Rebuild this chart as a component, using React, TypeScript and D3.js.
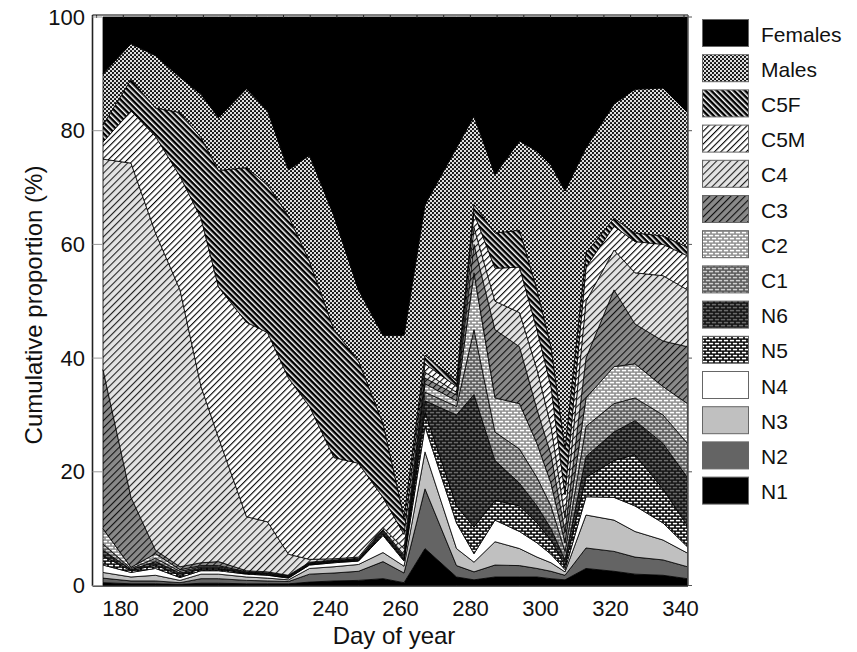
import React from 'react';
import * as d3 from 'd3';

const days = [175,183,190,197,203,208,216,222,228,234,241,248,255,261,267,276,281,287,294,299,303,307,313,321,327,335,342];

const stages = ['N1','N2','N3','N4','N5','N6','C1','C2','C3','C4','C5M','C5F','Males','Females'];
const legendOrder = ['Females','Males','C5F','C5M','C4','C3','C2','C1','N6','N5','N4','N3','N2','N1'];

// cumulative proportion (%) at the top of each stage
const cumN1 = [0.5,0.3,0.3,0.2,0.4,0.4,0.3,0.3,0.3,0.6,0.8,0.9,1.2,0.5,6.5,1.5,1,1.5,1.5,1.5,1.2,1,3,2.5,2,1.8,1.2];
const cumN2 = [1.3,0.8,0.8,0.5,1.2,1.2,0.9,0.8,0.7,2,2.2,2.5,4.2,2.2,17,3.5,2.4,3.6,3.5,3,2.5,1.8,6.6,6,5,4.5,3.3];
const cumN3 = [2.3,1.5,1.8,0.9,2,2,1.5,1.3,1,3,3.3,3.7,5.8,3.4,23.5,6.5,4.1,7.7,6.5,5,4,2.4,12.4,11.5,9.5,8,5.7];
const cumN4 = [3.6,2.3,3,1.4,2.6,2.6,2,1.8,1.3,3.6,4,4.3,8.8,4.3,28,11,5.6,11.5,9.5,7.5,5.5,2.8,15.6,15.5,14,11,6.8];
const cumN5 = [5.2,2.6,3.6,1.8,2.9,2.9,2.1,1.9,1.4,3.7,4.1,4.4,9,4.5,30.5,14,10.3,15,14,11,8,3.5,19,22,23,17,10.5];
const cumN6 = [6.2,2.8,4.2,2.2,3.1,3.1,2.2,2,1.5,3.8,4.2,4.5,9.2,4.7,32.5,30,33.6,22,18,14,10,4.5,22.7,27,29,25,19];
const cumC1 = [7.3,3,4.8,2.5,3.3,3.3,2.3,2.1,1.6,3.9,4.3,4.6,9.4,4.9,34,31.5,45,27,24,19,14,6,28,32,33,30,25];
const cumC2 = [10,3.2,5.6,2.8,3.5,3.5,2.4,2.2,1.7,4,4.4,4.7,9.6,5.1,35.5,32.5,55,33,32,25,18,7.5,33,38.5,39,35,32];
const cumC3 = [38,15.5,6.2,3.3,4,4.2,2.6,2.4,1.8,4.1,4.5,4.8,9.8,5.4,36.5,33.5,60,45,42,31,23,9.5,40,52,46,43,42];
const cumC4 = [75,74.3,62,52,35,26,12.1,11.2,5.5,4.6,4.7,5,10.2,6.5,37.5,34,63,50,48,38,28,12,50,59,55,54.5,52];
const cumC5M = [78,83.5,79,72,64.6,52.5,46.3,44.5,36.5,31.5,22.5,21.5,15.5,9,39,35,65.5,55.8,56,45,35,16,56,63.2,60.5,60,58];
const cumC5F = [81,89,84,83.2,78.8,73,73.5,70.5,65,57,45,39.5,28.5,12,40.5,36,67,62,62.5,52,42,24,58.5,64.6,62,61.5,59.5];
const cumMales = [90,95.3,93.2,89.4,86.4,82.3,87.4,83.5,73.1,75.7,65,52,44,44,67,77,82.6,72.3,78.2,76.4,74,69.4,77,84.7,87.3,87.5,83.2];
const cumFemales = days.map(() => 100);

const cumList = [cumN1,cumN2,cumN3,cumN4,cumN5,cumN6,cumC1,cumC2,cumC3,cumC4,cumC5M,cumC5F,cumMales,cumFemales];

const xTicks = [180,200,220,240,260,280,300,320,340];
const yTicks = [0,20,40,60,80,100];

const fills: Record<string,string> = {
  Females: '#000', Males: 'url(#pMales)', C5F: 'url(#pC5F)', C5M: 'url(#pC5M)', C4: 'url(#pC4)',
  C3: 'url(#pC3)', C2: 'url(#pC2)', C1: 'url(#pC1)', N6: 'url(#pN6)', N5: 'url(#pN5)',
  N4: '#fff', N3: '#c0c0c0', N2: '#646464', N1: '#000',
};

function Hatch({id, bg, fg, w, period, angle}: {id:string;bg:string;fg:string;w:number;period:number;angle:number}) {
  return (
    <pattern id={id} width={period} height={period} patternUnits="userSpaceOnUse" patternTransform={`rotate(${angle})`}>
      <rect width={period} height={period} fill={bg} />
      <rect x={0} y={0} width={w} height={period} fill={fg} />
    </pattern>
  );
}

function Brick({id, mortar, brick}: {id:string;mortar:string;brick:string}) {
  return (
    <pattern id={id} width={6} height={6} patternUnits="userSpaceOnUse">
      <rect width={6} height={6} fill={mortar} />
      <rect x={0.8} y={0.8} width={4.4} height={1.6} fill={brick} />
      <rect x={3.8} y={3.8} width={4.4} height={1.6} fill={brick} />
      <rect x={-2.2} y={3.8} width={4.4} height={1.6} fill={brick} />
    </pattern>
  );
}

export default function App() {
  const W = 857, H = 652;
  const x = d3.scaleLinear().domain([180, 340]).range([120.5, 680.5]);
  const y = d3.scaleLinear().domain([0, 100]).range([585.5, 17]);

  const rows = days.map((d, i) => {
    const r: any = { day: d };
    stages.forEach((s, k) => {
      r[s] = cumList[k][i] - (k > 0 ? cumList[k - 1][i] : 0);
    });
    return r;
  });
  const series = d3.stack<any>().keys(stages)(rows);
  const area = d3.area<any>()
    .x((d) => x(d.data.day))
    .y0((d) => y(d[0]))
    .y1((d) => y(d[1]));

  const frameL = 92.5, frameR = 688, frameT = 15, frameB = 586;
  const topTicks: number[] = [];
  for (let t = 96.6; t < frameR; t += 26.7) topTicks.push(t);

  const font = 'Liberation Sans, Arial, Helvetica, sans-serif';

  return (
    <svg width={W} height={H} style={{ position: 'absolute', left: 0, top: 0, background: '#fff' }} fontFamily={font}>
      <defs>
        <pattern id="pMales" width={4} height={4} patternUnits="userSpaceOnUse">
          <rect width={4} height={4} fill="#e0e0e0" />
          <circle cx={1} cy={1} r={1.05} fill="#000" />
          <circle cx={3} cy={3} r={1.05} fill="#000" />
        </pattern>
        <Hatch id="pC5F" bg="#000" fg="#fff" w={1.5} period={4} angle={-45} />
        <Hatch id="pC5M" bg="#fff" fg="#000" w={1.1} period={4.5} angle={45} />
        <Hatch id="pC4" bg="#e4e4e4" fg="#222" w={1.1} period={5} angle={45} />
        <Hatch id="pC3" bg="#8a8a8a" fg="#111" w={1.1} period={5} angle={45} />
        <Brick id="pC2" mortar="#8c8c8c" brick="#ffffff" />
        <Brick id="pC1" mortar="#555" brick="#cfcfcf" />
        <Brick id="pN6" mortar="#111" brick="#6a6a6a" />
        <Brick id="pN5" mortar="#000" brick="#ffffff" />
        <clipPath id="plotClip">
          <rect x={frameL} y={frameT} width={frameR - frameL} height={frameB - frameT} />
        </clipPath>
      </defs>

      <g clipPath="url(#plotClip)">
        {series.map((s) => (
          <path key={s.key} d={area(s as any) || ''} fill={fills[s.key]} stroke="#000" strokeWidth={0.8} strokeLinejoin="round" />
        ))}
      </g>

      {/* frame */}
      <line x1={frameL} x2={frameR} y1={frameT} y2={frameT} stroke="#555" strokeWidth={1.5} />
      <line x1={frameR} x2={frameR} y1={frameT} y2={frameB} stroke="#555" strokeWidth={1.5} />
      <line x1={frameL} x2={frameR} y1={frameB} y2={frameB} stroke="#222" strokeWidth={1.6} />
      <line x1={frameL} x2={frameL} y1={frameT} y2={frameB} stroke="#222" strokeWidth={1.6} />
      {topTicks.map((t, i) => (
        <line key={'tt' + i} x1={t} x2={t} y1={frameT} y2={frameT + 3} stroke="#222" strokeWidth={1} />
      ))}
      {yTicks.map((v) => (
        <g key={'yt' + v}>
          <line x1={frameL} x2={frameL + 10} y1={y(v)} y2={y(v)} stroke="#999" strokeWidth={1} />
          <line x1={frameR} x2={frameR + 4} y1={y(v)} y2={y(v)} stroke="#555" strokeWidth={1} />
          <text x={85} y={y(v)} textAnchor="end" dominantBaseline="central" fontSize={22} fill="#111">{v}</text>
        </g>
      ))}
      {xTicks.map((v) => (
        <text key={'xt' + v} x={x(v)} y={616} textAnchor="middle" fontSize={22} fill="#111">{v}</text>
      ))}
      <text x={394} y={644} textAnchor="middle" fontSize={24} fill="#111">Day of year</text>
      <text transform="translate(33,305) rotate(-90)" textAnchor="middle" dominantBaseline="central" fontSize={24} fill="#111">Cumulative proportion (%)</text>

      {/* legend */}
      {legendOrder.map((k, i) => {
        const cy = 33 + i * 35.2;
        return (
          <g key={'lg' + k}>
            <rect x={702.5} y={cy - 13.5} width={46} height={27} fill={fills[k]} stroke="#666" strokeWidth={1} />
            <text x={761} y={cy + 1} dominantBaseline="central" fontSize={21} fill="#111">{k}</text>
          </g>
        );
      })}
    </svg>
  );
}
